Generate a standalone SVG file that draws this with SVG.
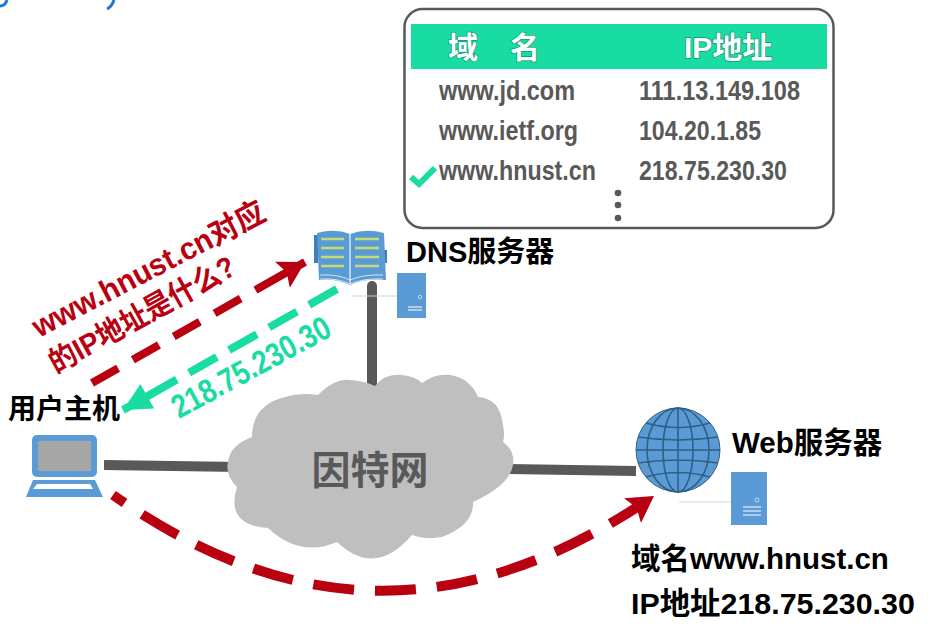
<svg xmlns="http://www.w3.org/2000/svg" width="932" height="626" viewBox="0 0 932 626">
<defs>
<style>
text{font-family:"Liberation Sans","Noto Sans CJK SC",sans-serif}
.cell{font-size:27px;font-weight:bold;fill:#595959}
.head{font-size:30px;font-weight:bold;fill:#fff;stroke:#0f9f78;stroke-width:1.500px;paint-order:stroke}
.lbl{font-weight:bold;fill:#000}
.blue{fill:#5b9bd5}
.link{stroke:#595959;stroke-width:10;fill:none}
.red{stroke:#b80010;fill:none}
.grid{fill:none;stroke:#2f5f85;stroke-width:1.600}
.pg{stroke:#c3dc78;stroke-width:2.500}
</style>
<marker id="redhead" markerUnits="userSpaceOnUse" markerWidth="30" markerHeight="30" refX="26" refY="15" orient="auto"><path d="M0 0L26 15L0 30L5 15Z" fill="#b80010"/></marker>
<marker id="greenhead" markerUnits="userSpaceOnUse" markerWidth="30" markerHeight="30" refX="28" refY="14" orient="auto"><path d="M0 0L28 14L0 28Z" fill="#19dca3"/></marker>
</defs>
<rect width="932" height="626" fill="#fff"/>
<path d="M0 6C4 6 6 3 7 0M107 9C111 7 113 3 114 0" fill="none" stroke="#1f78c8" stroke-width="3"/>
<g id="connectors">
<path class="link" d="M372 286V400" stroke-linecap="round"/>
<path class="link" d="M104 465L240 467"/>
<path class="link" d="M500 469L636 471"/>
<path class="red" stroke-width="8" stroke-dasharray="30 17 30 17 30 17 30 17 70" d="M92 383L305 262" marker-end="url(#redhead)"/>
<path d="M337 289L123 410" fill="none" stroke="#19dca3" stroke-width="8" stroke-dasharray="32 14 32 14 32 14 32 14 80" marker-end="url(#greenhead)"/>
<path class="red" stroke-width="10" stroke-dasharray="41 21" stroke-dashoffset="27" d="M113 495C296 623 469 622 654 496" marker-end="url(#redhead)"/>
</g>
<g id="table">
<rect x="404.500" y="9" width="429" height="219" rx="18" fill="#fff" stroke="#595959" stroke-width="2.500"/>
<rect x="411" y="24" width="416" height="45" fill="#19dca3"/>
<text class="head" x="448" y="58">域</text><text class="head" x="510" y="58">名</text>
<text class="head" x="684" y="58">IP地址</text>
<text class="cell" x="439" y="100" textLength="136" lengthAdjust="spacingAndGlyphs">www.jd.com</text><text class="cell" x="639" y="100" textLength="161" lengthAdjust="spacingAndGlyphs">111.13.149.108</text>
<text class="cell" x="439" y="140" textLength="139" lengthAdjust="spacingAndGlyphs">www.ietf.org</text><text class="cell" x="639" y="140" textLength="122" lengthAdjust="spacingAndGlyphs">104.20.1.85</text>
<text class="cell" x="439" y="180" textLength="157" lengthAdjust="spacingAndGlyphs">www.hnust.cn</text><text class="cell" x="639" y="180" textLength="148" lengthAdjust="spacingAndGlyphs">218.75.230.30</text>
<path d="M411 177L419 184L435 168" fill="none" stroke="#19dca3" stroke-width="6"/>
<circle cx="618" cy="193" r="3.300" fill="#595959"/><circle cx="618" cy="205" r="3.300" fill="#595959"/><circle cx="618" cy="218" r="3.300" fill="#595959"/>
</g>
<g id="dns">
<path d="M352 296H397" stroke="#c5d3de" stroke-width="1"/>
<rect x="314" y="235" width="4" height="28" fill="#3f7fb5"/><rect x="383" y="250" width="4" height="13" fill="#3f7fb5"/>
<path class="blue" d="M317 233Q335 228 350 234Q366 228 384 233L386 280Q366 278 350 285Q334 278 319 280Z"/>
<path d="M320 275Q338 274 350 280Q364 274 383 275M320 279Q338 278 350 284Q364 278 383 279" fill="none" stroke="#d5e5f3" stroke-width="1"/>
<path d="M350 234V284" stroke="#d5e5f3" stroke-width="1.500"/>
<path class="pg" d="M321 239H344M321 248H344M321 257H344M321 266H344M355 239H379M355 248H379M355 257H379M355 266H379"/>
<rect class="blue" x="397" y="273" width="29" height="45"/>
<path d="M408 307H422M408 310H422" stroke="#fff" stroke-width="1"/>
<circle cx="420" cy="297" r="1.700" fill="none" stroke="#fff" stroke-width=".6"/>
<text class="lbl" x="406" y="262" font-size="29">DNS服务器</text>
</g>
<g id="cloud">
<path d="M228 462Q230 445 252 437Q252 405 285 397Q300 392 318 395Q335 378 350 380Q365 381 375 386Q385 373 402 375Q415 376 422 383Q435 373 450 375Q470 378 478 397Q500 398 503 425Q505 435 503 442Q515 450 513 465Q510 485 473 502Q474 525 442 537Q425 540 412 535Q375 578 337 542Q300 558 268 528Q225 525 237 487Q225 475 228 462Z" fill="#bfbfbf"/>
<text x="370" y="484" text-anchor="middle" font-size="39" font-weight="bold" fill="#595959">因特网</text>
</g>
<g id="host">
<text class="lbl" x="8" y="419" font-size="28">用户主机</text>
<rect x="32" y="435" width="65" height="42" rx="5" class="blue"/>
<rect x="38" y="441" width="53" height="30" fill="#a6a6a6"/>
<path class="blue" d="M33 480H95L103 497H26Z"/>
<path d="M37 484H90L93 489H33Z" fill="#fff"/>
</g>
<g id="web">
<path d="M679 502H731" stroke="#c5dde8" stroke-width="1"/>
<circle cx="678" cy="450" r="42" class="blue" stroke="#2f5f85" stroke-width="1"/>
<path class="grid" d="M678 408V492M636 450H720M646 423Q678 432 710 423M638 437Q678 443 718 437M638 463Q678 457 718 463M646 477Q678 468 710 477"/>
<ellipse class="grid" cx="678" cy="450" rx="15" ry="42"/><ellipse class="grid" cx="678" cy="450" rx="31" ry="42"/>
<rect class="blue" x="731" y="472" width="36" height="53"/>
<path d="M743 507H761M743 511H761M743 515H761" stroke="#fff" stroke-width="1"/>
<circle cx="757" cy="500" r="2" fill="none" stroke="#fff" stroke-width=".6"/>
<text class="lbl" x="732" y="453" font-size="29.500">Web服务器</text>
<text class="lbl" x="631" y="569" font-size="29.500">域名www.hnust.cn</text>
<text class="lbl" x="631" y="614" font-size="30.400">IP地址218.75.230.30</text>
</g>
<g id="captions">
<text transform="translate(39 338) rotate(-27.500)" font-size="31" font-weight="bold" fill="#b80010" textLength="258" lengthAdjust="spacingAndGlyphs">www.hnust.cn对应</text>
<text transform="translate(56 374) rotate(-29)" font-size="30" font-weight="bold" fill="#b80010" textLength="208" lengthAdjust="spacingAndGlyphs">的IP地址是什么?</text>
<text transform="translate(179 419) rotate(-28.500)" font-size="33" font-weight="bold" fill="#19dca3" textLength="176" lengthAdjust="spacingAndGlyphs">218.75.230.30</text>
</g>
</svg>
